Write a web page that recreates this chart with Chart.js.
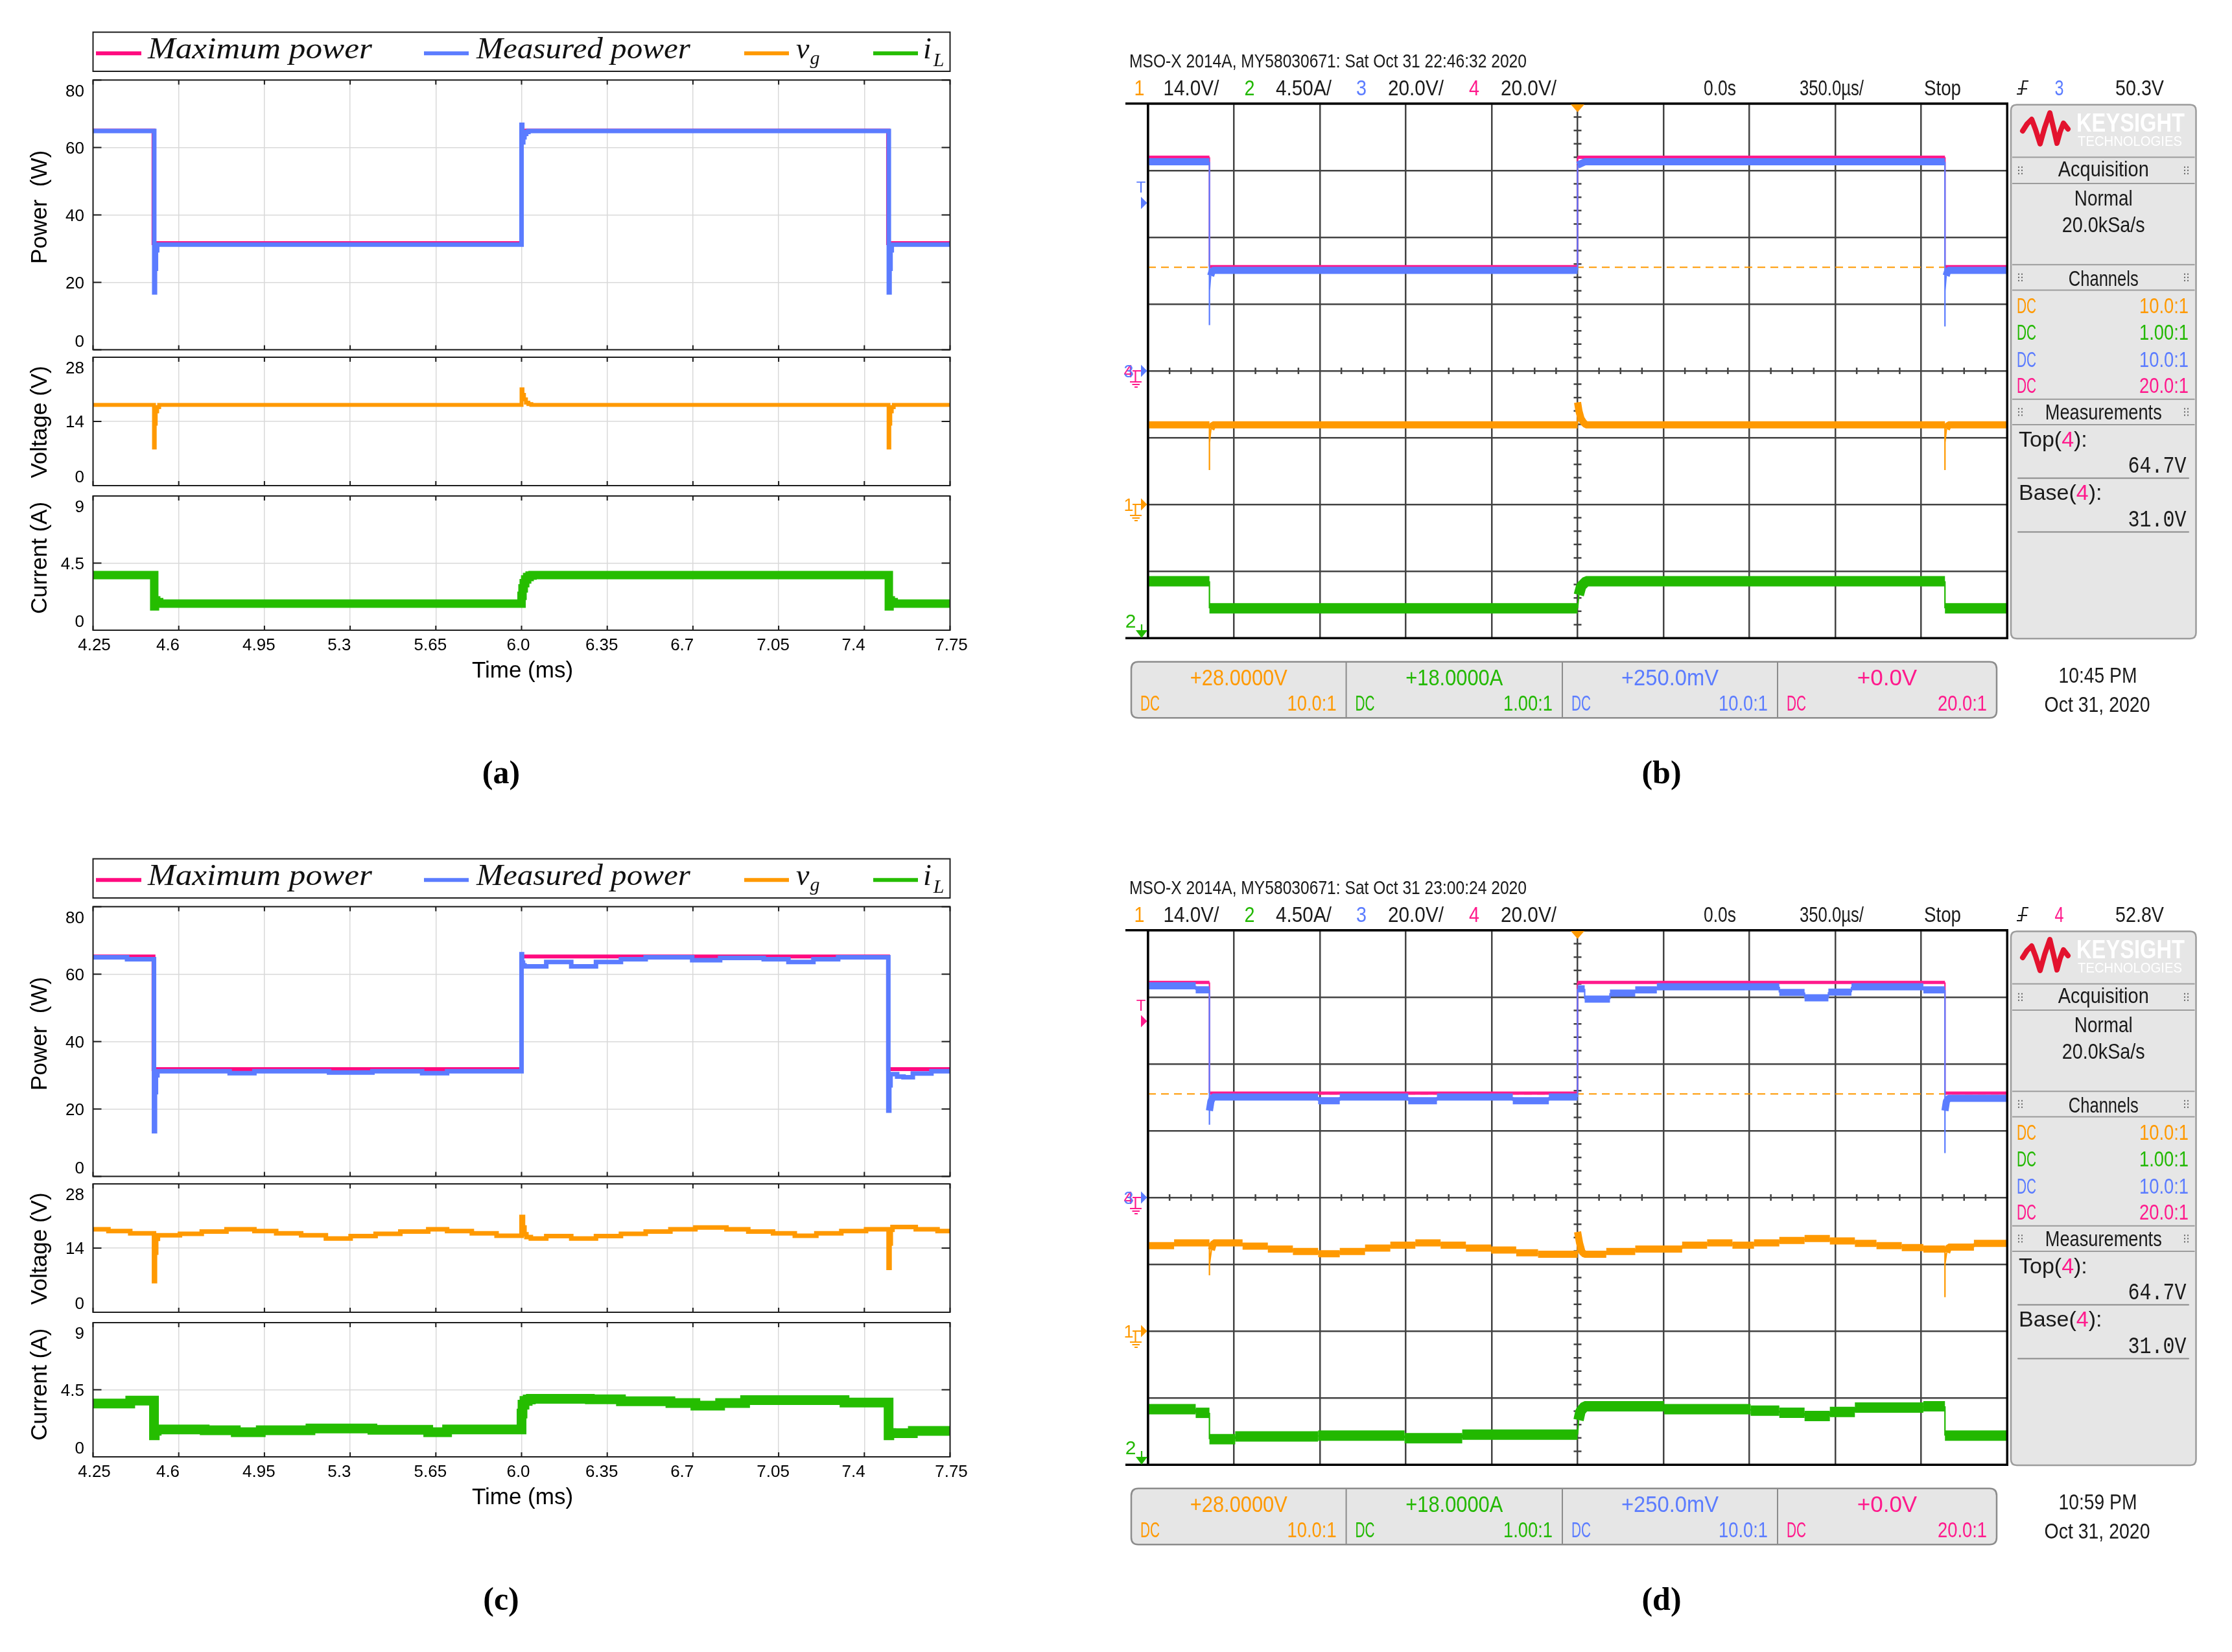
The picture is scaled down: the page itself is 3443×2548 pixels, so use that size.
<!DOCTYPE html>
<html>
<head>
<meta charset="utf-8">
<script src="https://cdn.jsdelivr.net/npm/chart.js"></script>
<style>
html,body{margin:0;padding:0;background:#fff;}
#root{position:relative;width:3443px;height:2548px;overflow:hidden;background:#fff;}
canvas{position:absolute;}
.cap{position:absolute;font:bold 50px "Liberation Serif","Times New Roman",serif;line-height:50px;color:#000;transform:translateX(-50%);white-space:nowrap;}
</style>
</head>
<body>
<div id="root">
  <div class="cap" style="left:773px;top:1166px">(a)</div>
  <div class="cap" style="left:2563px;top:1166px">(b)</div>
  <div class="cap" style="left:773px;top:2441px">(c)</div>
  <div class="cap" style="left:2563px;top:2441px">(d)</div>
</div>
<script>
// ---------------- DATA ----------------
// Simulation panels (a) and (c): time in ms
const simTickLabels = ['4.25','4.6','4.95','5.3','5.65','6.0','6.35','6.7','7.05','7.4','7.75'];
const simTickValues = simTickLabels.map(Number);
const powerTicks = [0, 20, 40, 60, 80];
const voltTicks = [0, 14, 28];
const currTicks = [0, 4.5, 9];
const legendNames = ['Maximum power', 'Measured power', 'v', 'i'];
const legendSubs = ['', '', 'g', 'L'];

// (a) level-start times and values (step signals)
const aMaxT  = [4.25, 4.497, 6.0, 7.497, 7.75];
const aMaxP  = [65.0, 31.6, 65.0, 31.6, 31.6];
const aMeasT = [4.25, 4.500, 4.503, 4.507, 4.512, 6.000, 6.003, 6.007, 6.012, 6.019, 6.028, 7.500, 7.503, 7.507, 7.512, 7.75];
const aMeasP = [64.9, 17.0, 24.0, 29.5, 31.2, 66.7, 61.5, 63.0, 64.0, 64.6, 64.9, 17.0, 24.0, 29.5, 31.2, 31.2];
const aVgT   = [4.25, 4.499, 4.502, 4.506, 4.512, 4.52, 6.0, 6.004, 6.01, 6.018, 6.028, 6.04, 7.499, 7.502, 7.506, 7.512, 7.52, 7.75];
const aVgV   = [17.6, 8.3, 13.5, 16.2, 17.1, 17.6, 21.0, 19.8, 18.8, 18.1, 17.8, 17.6, 8.3, 13.5, 16.2, 17.1, 17.6, 17.6];
const aIlT   = [4.25, 4.500, 4.503, 4.508, 4.52, 6.0, 6.004, 6.009, 6.015, 6.023, 6.033, 6.045, 7.500, 7.503, 7.508, 7.52, 7.75];
const aIlV   = [3.7, 1.6, 2.0, 1.88, 1.78, 2.3, 2.8, 3.15, 3.4, 3.57, 3.66, 3.7, 1.6, 2.0, 1.88, 1.78, 1.78];

// (c)
const cMaxT  = [4.25, 4.497, 6.0, 7.497, 7.75];
const cMaxP  = [65.2, 31.8, 65.2, 31.8, 31.8];
const cMeasT = [4.25, 4.389, 4.499, 4.503, 4.507, 4.513, 4.808, 4.909, 5.214, 5.391, 5.594, 5.696, 6.0, 6.002, 6.006, 6.012, 6.101, 6.203, 6.304, 6.406, 6.507, 6.697, 6.811, 6.989, 7.090, 7.192, 7.293, 7.498, 7.502, 7.507, 7.513, 7.534, 7.56, 7.598, 7.674, 7.75];
const cMeasP = [65.0, 64.4, 13.4, 25.0, 30.0, 31.2, 30.6, 31.2, 30.8, 31.2, 30.6, 31.2, 65.9, 63.4, 62.6, 62.3, 63.6, 62.3, 63.6, 64.4, 65.0, 64.1, 64.8, 64.4, 63.6, 64.4, 65.0, 19.5, 27.0, 30.3, 30.3, 29.6, 29.4, 30.5, 31.2, 31.2];
const cVgT   = [4.25, 4.313, 4.402, 4.499, 4.503, 4.508, 4.515, 4.605, 4.694, 4.795, 4.909, 4.998, 5.10, 5.201, 5.302, 5.404, 5.505, 5.619, 5.696, 5.797, 5.898, 6.0, 6.006, 6.012, 6.02, 6.038, 6.101, 6.203, 6.304, 6.406, 6.507, 6.608, 6.71, 6.837, 6.926, 7.027, 7.116, 7.204, 7.306, 7.407, 7.499, 7.503, 7.508, 7.515, 7.610, 7.699, 7.75];
const cVgV   = [18.1, 17.7, 17.2, 6.8, 13.0, 16.0, 16.8, 17.1, 17.6, 18.1, 17.7, 17.2, 16.8, 16.1, 16.6, 17.1, 17.6, 18.1, 17.7, 17.2, 16.7, 20.8, 18.5, 17.0, 16.4, 16.1, 16.6, 16.1, 16.6, 17.1, 17.6, 18.1, 18.5, 18.1, 17.6, 17.2, 16.7, 17.2, 17.7, 18.1, 9.7, 15.0, 18.0, 18.6, 18.1, 17.7, 17.7];
const cIlT   = [4.25, 4.402, 4.499, 4.502, 4.51, 4.52, 4.706, 4.833, 4.935, 5.138, 5.391, 5.619, 5.696, 6.0, 6.004, 6.012, 6.025, 6.038, 6.279, 6.406, 6.608, 6.710, 6.811, 6.913, 7.319, 7.499, 7.502, 7.51, 7.598, 7.75];
const cIlV   = [3.58, 3.77, 1.45, 1.75, 1.84, 1.84, 1.78, 1.65, 1.78, 1.90, 1.81, 1.65, 1.84, 2.9, 3.5, 3.75, 3.85, 3.89, 3.86, 3.73, 3.61, 3.43, 3.61, 3.80, 3.64, 1.45, 1.6, 1.59, 1.74, 1.74];

// Oscilloscope panels (b) and (d): time in ms relative to trigger
const scopeTimeTicks = [-1.75, -1.4, -1.05, -0.7, -0.35, 0, 0.35, 0.7, 1.05, 1.4, 1.75];
const scopeDivTicks = [-4, -3, -2, -1, 0, 1, 2, 3, 4];
const scopePerDiv = [14.0, 4.50, 20.0, 20.0];      // ch1..ch4 units / div
const scopeGroundDiv = [-2, -4, 0, 0];             // ground position, divisions from centre
const scopeScaleLabels = ['14.0V/', '4.50A/', '20.0V/', '20.0V/'];
const scopeOffsets = ['+28.0000V', '+18.0000A', '+250.0mV', '+0.0V'];
const scopeProbes = ['10.0:1', '1.00:1', '10.0:1', '20.0:1'];
const measNames = ['Top', 'Base'];
const measValues = ['64.7V', '31.0V'];
const baseT = [-1.75, 1.75];
const baseV = [31.0, 31.0];

const bCh4T = [-1.75, -1.500, -1.500, 0.0, 0.0, 1.497, 1.497, 1.75];
const bCh4V = [64.0, 64.0, 31.2, 31.2, 64.0, 64.0, 31.2, 31.2];
const bCh3T = [-1.75, -1.500, -1.500, -1.500, -1.495, -1.488, 0.0, 0.0, 0.03, 1.497, 1.497, 1.497, 1.502, 1.509, 1.75];
const bCh3V = [62.6, 62.6, 13.7, 24.0, 28.5, 30.1, 30.1, 61.6, 62.6, 62.6, 13.3, 24.0, 28.5, 30.1, 30.1];
const bCh1T = [-1.75, -1.500, -1.500, -1.500, -1.494, -1.486, 0.0, 0.0, 0.006, 0.014, 0.024, 0.034, 1.497, 1.497, 1.497, 1.503, 1.511, 1.75];
const bCh1V = [16.7, 16.7, 7.2, 13.0, 15.8, 16.7, 16.7, 21.4, 19.5, 18.0, 17.2, 16.7, 16.7, 7.2, 13.0, 15.8, 16.7, 16.7];
const bCh2T = [-1.75, -1.500, -1.500, 0.0, 0.005, 0.015, 0.035, 1.497, 1.497, 1.75];
const bCh2V = [3.82, 3.82, 2.0, 2.0, 2.9, 3.5, 3.82, 3.82, 2.0, 2.0];

const dCh4T = [-1.75, -1.500, -1.500, 0.0, 0.0, 1.497, 1.497, 1.75];
const dCh4V = [64.4, 64.4, 31.25, 31.25, 64.4, 64.4, 31.25, 31.25];
const dCh3T = [-1.75, -1.556, -1.556, -1.500, -1.500, -1.500, -1.494, -1.486, -1.057, -1.057, -0.969, -0.969, -0.690, -0.690, -0.573, -0.573, -0.264, -0.264, -0.117, -0.117, 0.0, 0.0, 0.029, 0.029, 0.132, 0.132, 0.235, 0.235, 0.323, 0.323, 0.822, 0.822, 0.925, 0.925, 1.022, 1.022, 1.116, 1.116, 1.409, 1.409, 1.497, 1.497, 1.497, 1.503, 1.511, 1.75];
const dCh3V = [63.4, 63.4, 62.2, 62.2, 21.8, 26.0, 28.8, 30.1, 30.1, 29.0, 29.0, 30.1, 30.1, 29.0, 29.0, 30.1, 30.1, 29.0, 29.0, 30.1, 30.1, 62.5, 62.5, 59.4, 59.4, 61.2, 61.2, 62.2, 62.2, 63.1, 63.1, 61.4, 61.4, 59.8, 59.8, 61.5, 61.5, 63.1, 63.1, 62.2, 62.2, 13.3, 26.0, 28.8, 29.7, 29.7];
const dCh1T = [-1.75, -1.644, -1.644, -1.500, -1.500, -1.500, -1.492, -1.483, -1.365, -1.365, -1.262, -1.262, -1.160, -1.160, -1.057, -1.057, -0.969, -0.969, -0.866, -0.866, -0.763, -0.763, -0.661, -0.661, -0.558, -0.558, -0.455, -0.455, -0.352, -0.352, -0.250, -0.250, -0.161, -0.161, 0.0, 0.0, 0.008, 0.018, 0.029, 0.117, 0.117, 0.235, 0.235, 0.426, 0.426, 0.528, 0.528, 0.631, 0.631, 0.719, 0.719, 0.822, 0.822, 0.925, 0.925, 1.028, 1.028, 1.130, 1.130, 1.218, 1.218, 1.321, 1.321, 1.409, 1.409, 1.497, 1.497, 1.497, 1.504, 1.512, 1.615, 1.615, 1.75];
const dCh1V = [17.9, 17.9, 18.5, 18.5, 11.7, 14.0, 17.0, 18.5, 18.5, 17.8, 17.8, 17.2, 17.2, 16.7, 16.7, 16.2, 16.2, 16.7, 16.7, 17.4, 17.4, 18.0, 18.0, 18.5, 18.5, 18.0, 18.0, 17.4, 17.4, 17.0, 17.0, 16.4, 16.4, 16.1, 16.1, 20.8, 18.5, 16.6, 16.1, 16.1, 16.7, 16.7, 17.2, 17.2, 18.0, 18.0, 18.5, 18.5, 18.0, 18.0, 18.5, 18.5, 19.0, 19.0, 19.4, 19.4, 18.9, 18.9, 18.4, 18.4, 17.9, 17.9, 17.5, 17.5, 17.2, 17.2, 7.1, 14.0, 16.5, 17.6, 17.6, 18.4, 18.4];
const dCh2T = [-1.75, -1.556, -1.556, -1.5, -1.5, -1.395, -1.395, -1.057, -1.057, -0.705, -0.705, -0.470, -0.470, 0.0, 0.004, 0.012, 0.029, 0.352, 0.352, 0.705, 0.705, 0.822, 0.822, 0.925, 0.925, 1.028, 1.028, 1.130, 1.130, 1.409, 1.409, 1.497, 1.497, 1.75];
const dCh2V = [3.73, 3.73, 3.49, 3.49, 1.72, 1.72, 1.90, 1.90, 1.96, 1.96, 1.78, 1.78, 2.02, 2.02, 3.0, 3.6, 3.93, 3.93, 3.73, 3.73, 3.64, 3.64, 3.5, 3.5, 3.28, 3.28, 3.55, 3.55, 3.85, 3.85, 3.93, 3.93, 1.96, 1.96];

// ---------------- STYLE ----------------
const SANS = '"Liberation Sans", Arial, Helvetica, sans-serif';
const NARROW = '"Liberation Sans Narrow", "Liberation Sans", Arial, sans-serif';
const SERIF = '"Liberation Serif", "Times New Roman", serif';
const MONO = '"Liberation Mono", "DejaVu Sans Mono", monospace';
const SIMC = { max: '#FF0A7F', meas: '#5B7CFF', vg: '#FF9900', il: '#25BD00' };
const SC = { c1: '#FF9900', c2: '#22B800', c3: '#5B7CFF', c4: '#FF1A8C', ink: '#1a1a1a', grid: '#434343', panel: '#E6E6E6', line: '#9c9c9c' };
const CH = [SC.c1, SC.c2, SC.c3, SC.c4];

const root = document.getElementById('root');
function mkCanvas(x, y, w, h) {
  const c = document.createElement('canvas');
  c.width = w; c.height = h;
  c.style.left = x + 'px'; c.style.top = y + 'px';
  c.style.width = w + 'px'; c.style.height = h + 'px';
  root.appendChild(c);
  return c;
}
function pts(T, V) { return T.map((t, i) => ({ x: t, y: V[i] })); }
function txt(ctx, s, x, y, size, color, align, maxW, family) {
  ctx.font = size + 'px ' + (family || NARROW);
  ctx.fillStyle = color || SC.ink;
  ctx.textAlign = align || 'left';
  ctx.textBaseline = 'alphabetic';
  if (maxW) ctx.fillText(s, x, y, maxW); else ctx.fillText(s, x, y);
}
function rrect(ctx, x, y, w, h, r) {
  ctx.beginPath();
  ctx.moveTo(x + r, y); ctx.lineTo(x + w - r, y); ctx.quadraticCurveTo(x + w, y, x + w, y + r);
  ctx.lineTo(x + w, y + h - r); ctx.quadraticCurveTo(x + w, y + h, x + w - r, y + h);
  ctx.lineTo(x + r, y + h); ctx.quadraticCurveTo(x, y + h, x, y + h - r);
  ctx.lineTo(x, y + r); ctx.quadraticCurveTo(x, y, x + r, y); ctx.closePath();
}

// ---------------- SIMULATION PANELS ----------------
function xLabelShift(i, lab) {
  if (i === 0 || i === simTickLabels.length - 1) return 2;
  if (lab === '6.0') return -5;
  return lab.length === 3 ? -16.7 : -8.5;
}
function drawSimLegend(ctx, top) {
  const L = 143.5, R = 1465.5, H = 60.4;
  ctx.strokeStyle = '#1c1c1c'; ctx.lineWidth = 2; ctx.strokeRect(L, top, R - L, H);
  const ly = top + 32.6, by = top + 40.1;
  const cols = [SIMC.max, SIMC.meas, SIMC.vg, SIMC.il];
  const lx = [[148, 218], [654, 723], [1148, 1217], [1347, 1416]];
  const tx = [228, 735, 1228, 1424];
  const tw = [346, 330, 0, 0];
  lx.forEach((p, i) => { ctx.strokeStyle = cols[i]; ctx.lineWidth = 6; ctx.beginPath(); ctx.moveTo(p[0], ly); ctx.lineTo(p[1], ly); ctx.stroke(); });
  ctx.fillStyle = '#111'; ctx.textAlign = 'left'; ctx.textBaseline = 'alphabetic';
  legendNames.forEach((name, i) => {
    ctx.font = 'italic 46px ' + SERIF;
    const w = ctx.measureText(name).width;
    ctx.save(); ctx.translate(tx[i], by);
    if (tw[i]) ctx.scale(tw[i] / w, 1);
    ctx.fillText(name, 0, 0); ctx.restore();
    if (legendSubs[i]) {
      ctx.font = 'italic 30px ' + SERIF;
      ctx.fillText(legendSubs[i], tx[i] + w + (i === 3 ? 3 : 1), by + (i === 3 ? 12 : 9));
    }
  });
}
function simAxes(cfg) {
  return {
    id: 'simAxes',
    afterDraw(chart) {
      const ctx = chart.ctx, a = chart.chartArea, xs = chart.scales.x, ys = chart.scales.y;
      ctx.save();
      ctx.strokeStyle = '#1c1c1c'; ctx.lineWidth = 2; ctx.lineCap = 'butt';
      ctx.beginPath();
      simTickValues.forEach(v => { const px = xs.getPixelForValue(v); ctx.moveTo(px, a.bottom); ctx.lineTo(px, a.bottom - 7); ctx.moveTo(px, a.top); ctx.lineTo(px, a.top + 7); });
      cfg.yTicks.forEach(v => { const py = ys.getPixelForValue(v); ctx.moveTo(a.left, py); ctx.lineTo(a.left + 13, py); ctx.moveTo(a.right, py); ctx.lineTo(a.right - 13, py); });
      ctx.stroke();
      ctx.strokeRect(a.left, a.top, a.right - a.left, a.bottom - a.top);
      ctx.fillStyle = '#000'; ctx.font = '26px ' + SANS; ctx.textAlign = 'right'; ctx.textBaseline = 'alphabetic';
      const n = cfg.yTicks.length;
      cfg.yTicks.forEach((v, i) => {
        let c = ys.getPixelForValue(v);
        if (i === n - 1) c = a.top + 16; else if (i === 0) c = a.bottom - 14;
        ctx.fillText(String(v), a.left - 13.5, c + 9.3);
      });
      ctx.save();
      ctx.translate(71.5, (a.top + a.bottom) / 2 + cfg.titleDy); ctx.rotate(-Math.PI / 2);
      ctx.font = '35px ' + SANS; ctx.textAlign = 'center'; ctx.fillText(cfg.title, 0, 0);
      ctx.restore();
      if (cfg.xLabels) {
        ctx.font = '26px ' + SANS; ctx.textAlign = 'center';
        simTickLabels.forEach((lab, i) => { ctx.fillText(lab, xs.getPixelForValue(simTickValues[i]) + xLabelShift(i, lab), a.bottom + 31); });
        ctx.font = '35px ' + SANS;
        ctx.fillText('Time (ms)', (a.left + a.right) / 2 + 1.5, a.bottom + 73);
      }
      if (cfg.legend) drawSimLegend(ctx, a.top - 73.8);
      ctx.restore();
    }
  };
}
function simChart(cfg) {
  const c = mkCanvas(cfg.x, cfg.y, cfg.w, cfg.h);
  const yT = cfg.yTicks;
  const datasets = cfg.series.map(s => ({
    label: s.label, data: pts(s.T, s.V), borderColor: s.color, backgroundColor: s.color,
    borderWidth: s.width, pointRadius: 0, stepped: 'before', fill: false, order: s.order || 1,
    borderJoinStyle: 'miter', borderCapStyle: 'butt'
  }));
  const gridOpt = { color: '#d9d9d9', lineWidth: 1.5, drawTicks: false };
  return new Chart(c, {
    type: 'line',
    data: { datasets },
    options: {
      responsive: false, animation: false, devicePixelRatio: 1, events: [],
      layout: { padding: cfg.pad, autoPadding: false },
      plugins: { legend: { display: false }, tooltip: { enabled: false } },
      scales: {
        x: { type: 'linear', min: 4.25, max: 7.75,
             afterBuildTicks: ax => { ax.ticks = simTickValues.map(v => ({ value: v })); },
             afterFit: s => { s.height = 0; }, grid: gridOpt, border: { display: false }, ticks: { display: false } },
        y: { type: 'linear', min: yT[0], max: yT[yT.length - 1],
             afterBuildTicks: ax => { ax.ticks = yT.map(v => ({ value: v })); },
             afterFit: s => { s.width = 0; }, grid: gridOpt, border: { display: false }, ticks: { display: false } }
      }
    },
    plugins: [simAxes(cfg)]
  });
}
function simPanel(dy, D) {
  simChart({ x: 0, y: 40 + dy, w: 1500, h: 506, pad: { left: 143.5, top: 83.4, right: 34.5, bottom: 6.6 },
    yTicks: powerTicks, title: 'Power  (W)', titleDy: -12, legend: true,
    series: [
      { label: 'Measured power', T: D.measT, V: D.measP, color: SIMC.meas, width: 7, order: 1 },
      { label: 'Maximum power', T: D.maxT, V: D.maxP, color: SIMC.max, width: 6, order: 2 }
    ] });
  simChart({ x: 0, y: 546 + dy, w: 1500, h: 210, pad: { left: 143.5, top: 5, right: 34.5, bottom: 7 },
    yTicks: voltTicks, title: 'Voltage (V)', titleDy: 1,
    series: [{ label: 'vg', T: D.vgT, V: D.vgV, color: SIMC.vg, width: D.vgW }] });
  simChart({ x: 0, y: 756 + dy, w: 1500, h: 304, pad: { left: 143.5, top: 9, right: 34.5, bottom: 88 },
    yTicks: currTicks, title: 'Current (A)', titleDy: -8, xLabels: true,
    series: [{ label: 'iL', T: D.ilT, V: D.ilV, color: SIMC.il, width: D.ilW }] });
}
simPanel(0, { maxT: aMaxT, maxP: aMaxP, measT: aMeasT, measP: aMeasP, vgT: aVgT, vgV: aVgV, ilT: aIlT, ilV: aIlV, vgW: 6, ilW: 13 });
simPanel(1275, { maxT: cMaxT, maxP: cMaxP, measT: cMeasT, measP: cMeasP, vgT: cVgT, vgV: cVgV, ilT: cIlT, ilV: cIlV, vgW: 7, ilW: 15 });

// ---------------- OSCILLOSCOPE PANELS ----------------
function scopeDs(T, V, color, axis, thick, order) {
  return {
    data: pts(T, V), yAxisID: axis, borderColor: color, backgroundColor: color, borderWidth: thick,
    pointRadius: 0, order, fill: false, borderJoinStyle: 'bevel', borderCapStyle: 'butt',
    segment: { borderWidth: s => (Math.abs(s.p1.y - s.p0.y) > 6 * Math.abs(s.p1.x - s.p0.x) + 1 ? 2.2 : thick) }
  };
}
function groundMarker(ctx, gy, labels, lineColor, arrowColor) {
  labels.forEach(l => txt(ctx, l[0], 21, gy + 9.5, 27, l[1], 'center'));
  ctx.strokeStyle = lineColor; ctx.lineWidth = 2.2;
  ctx.beginPath();
  ctx.moveTo(27, gy); ctx.lineTo(41, gy);
  ctx.moveTo(31.5, gy); ctx.lineTo(31.5, gy + 16);
  ctx.moveTo(23, gy + 17); ctx.lineTo(41, gy + 17);
  ctx.moveTo(26.5, gy + 21); ctx.lineTo(38, gy + 21);
  ctx.moveTo(30, gy + 25); ctx.lineTo(35, gy + 25);
  ctx.stroke();
  ctx.fillStyle = arrowColor;
  ctx.beginPath(); ctx.moveTo(40, gy - 9.5); ctx.lineTo(49.5, gy); ctx.lineTo(40, gy + 9.5); ctx.closePath(); ctx.fill();
}
function grip(ctx, x, y) {
  ctx.fillStyle = '#666';
  for (let r = -1; r <= 1; r++) { ctx.fillRect(x, y + r * 5 - 1, 2, 2); ctx.fillRect(x + 5, y + r * 5 - 1, 2, 2); }
}
function scopePlugin(S) {
  return {
    id: 'scope',
    beforeDatasetsDraw(chart) {
      const ctx = chart.ctx, a = chart.chartArea, xs = chart.scales.x, ys = chart.scales.y34;
      const cx = xs.getPixelForValue(0), cy = ys.getPixelForValue(0);
      const dw = (a.right - a.left) / (scopeTimeTicks.length - 1), dh = (a.bottom - a.top) / (scopeDivTicks.length - 1);
      ctx.save(); ctx.strokeStyle = SC.grid; ctx.lineWidth = 2.5; ctx.beginPath();
      for (let i = 1; i < 40; i++) { if (i % 4 === 0) continue; const px = a.left + i * dw / 4; ctx.moveTo(px, cy - 5); ctx.lineTo(px, cy + 5); }
      for (let i = 1; i < 40; i++) { if (i % 5 === 0) continue; const py = a.top + i * dh / 5; ctx.moveTo(cx - 6, py); ctx.lineTo(cx + 6, py); }
      ctx.stroke(); ctx.restore();
    },
    afterDraw(chart) {
      const ctx = chart.ctx, a = chart.chartArea, xs = chart.scales.x;
      const y34 = chart.scales.y34, y1 = chart.scales.y1, y2 = chart.scales.y2;
      ctx.save();
      // frame
      ctx.fillStyle = '#000';
      ctx.fillRect(16, a.top - 2, a.right - 16 + 2, 3.5);
      ctx.fillRect(16, a.bottom - 1.5, a.right - 16 + 2, 3.5);
      ctx.fillRect(a.left - 2, a.top, 3.5, a.bottom - a.top);
      ctx.fillRect(a.right - 1.5, a.top, 3.5, a.bottom - a.top);
      // trigger position marker
      const cx = xs.getPixelForValue(0);
      ctx.fillStyle = SC.c1;
      ctx.beginPath(); ctx.moveTo(cx - 10.5, a.top + 1); ctx.lineTo(cx + 10.5, a.top + 1); ctx.lineTo(cx, a.top + 13); ctx.closePath(); ctx.fill();
      // trigger level marker
      const ty = y34.getPixelForValue(S.trigLevel);
      ctx.fillStyle = S.trigColor;
      ctx.beginPath(); ctx.moveTo(40, ty - 9.5); ctx.lineTo(49.5, ty); ctx.lineTo(40, ty + 9.5); ctx.closePath(); ctx.fill();
      txt(ctx, 'T', 40, ty - 16, 24, S.trigColor, 'center');
      // ground markers
      groundMarker(ctx, y34.getPixelForValue(0), [['4', SC.c4], ['3', SC.c3]], SC.c4, SC.c3);
      groundMarker(ctx, y1.getPixelForValue(0), [['1', SC.c1]], SC.c1, SC.c1);
      const g2 = y2.getPixelForValue(0);
      txt(ctx, '2', 24, g2 - 16, 30, SC.c2, 'center');
      ctx.strokeStyle = SC.c2; ctx.lineWidth = 2.2; ctx.beginPath(); ctx.moveTo(41, g2 - 21); ctx.lineTo(41, g2 - 11); ctx.stroke();
      ctx.fillStyle = SC.c2; ctx.beginPath(); ctx.moveTo(32, g2 - 12); ctx.lineTo(50, g2 - 12); ctx.lineTo(41, g2); ctx.closePath(); ctx.fill();

      // header
      txt(ctx, S.header, 22, 44, 30, SC.ink, 'left', 613);
      const chX = [29.5, 199.6, 372, 546], lbX = [74.4, 248, 421, 595];
      for (let i = 0; i < 4; i++) {
        txt(ctx, String(i + 1), chX[i], 86.7, 33, CH[i], 'left', 16);
        txt(ctx, scopeScaleLabels[i], lbX[i], 86.7, 33, SC.ink, 'left', 86);
      }
      txt(ctx, '0.0s', 908, 86.7, 33, SC.ink, 'left', 50);
      txt(ctx, '350.0\u00B5s/', 1056, 86.7, 33, SC.ink, 'left', 99);
      txt(ctx, 'Stop', 1248, 86.7, 33, SC.ink, 'left', 57);
      ctx.strokeStyle = SC.ink; ctx.lineWidth = 2.2; ctx.beginPath();
      ctx.moveTo(1391, 85); ctx.lineTo(1398, 85); ctx.lineTo(1401, 65); ctx.lineTo(1409, 65);
      ctx.moveTo(1393, 77); ctx.lineTo(1407, 77); ctx.stroke();
      txt(ctx, S.trigSrc, 1449.5, 86.7, 33, S.trigColor, 'left', 14);
      txt(ctx, S.trigLevel.toFixed(1) + 'V', 1543, 86.7, 33, SC.ink, 'left', 75);

      // right panel
      const P = { l: 1382, r: 1667.5, t: 101.4, b: 925 };
      rrect(ctx, P.l, P.t, P.r - P.l, P.b - P.t, 9);
      ctx.fillStyle = SC.panel; ctx.fill(); ctx.strokeStyle = SC.line; ctx.lineWidth = 2.5; ctx.stroke();
      ctx.beginPath();
      [182.6, 223, 348.2, 387.4, 555.8, 595].forEach(y => { ctx.moveTo(P.l + 2, y); ctx.lineTo(P.r - 2, y); });
      ctx.lineWidth = 2; ctx.stroke();
      // logo
      ctx.strokeStyle = '#E3122E'; ctx.lineWidth = 8; ctx.lineJoin = 'round'; ctx.lineCap = 'round';
      ctx.beginPath();
      [[1400, 142], [1407, 131], [1414, 124], [1420, 140], [1427, 162], [1434, 137], [1442, 114], [1448, 139], [1453, 161], [1458, 143], [1463, 130], [1470, 139]]
        .forEach((p, i) => i ? ctx.lineTo(p[0], p[1]) : ctx.moveTo(p[0], p[1]));
      ctx.stroke();
      ctx.font = 'bold 40px ' + SANS; ctx.fillStyle = '#ffffff'; ctx.textAlign = 'left';
      ctx.fillText('KEYSIGHT', 1483, 143, 167);
      ctx.font = '22px ' + SANS; ctx.fillText('TECHNOLOGIES', 1485, 165, 161);
      const mid = (P.l + P.r) / 2;
      txt(ctx, 'Acquisition', mid, 211.6, 34, SC.ink, 'center', 140);
      txt(ctx, 'Normal', mid, 257, 34, SC.ink, 'center', 90);
      txt(ctx, '20.0kSa/s', mid, 297.5, 34, SC.ink, 'center', 128);
      txt(ctx, 'Channels', mid, 380.6, 34, SC.ink, 'center', 108);
      [202.8, 367.8, 575.4].forEach(y => { grip(ctx, 1393, y); grip(ctx, 1649, y); });
      const rowY = [422.6, 463.8, 505.7, 546.3];
      for (let i = 0; i < 4; i++) {
        txt(ctx, 'DC', 1391, rowY[i], 34, CH[i], 'left', 30);
        txt(ctx, scopeProbes[i], 1656, rowY[i], 34, CH[i], 'right', 76);
      }
      txt(ctx, 'Measurements', mid, 586.9, 34, SC.ink, 'center', 180);
      const mY = [[628.8, 669.4, 677.5], [711.3, 751.9, 760.6]];
      measNames.forEach((nm, i) => {
        ctx.font = '34px ' + NARROW;
        const w1 = ctx.measureText(nm + '(').width;
        txt(ctx, nm + '(', 1394, mY[i][0], 34, SC.ink, 'left');
        txt(ctx, '4', 1394 + w1, mY[i][0], 34, SC.c4, 'left');
        ctx.font = '34px ' + NARROW;
        const w2 = ctx.measureText('4').width;
        txt(ctx, '):', 1394 + w1 + w2, mY[i][0], 34, SC.ink, 'left');
        txt(ctx, measValues[i], 1652.6, mY[i][1], 36, SC.ink, 'right', 90, MONO);
        ctx.strokeStyle = '#8a8a8a'; ctx.lineWidth = 2; ctx.beginPath(); ctx.moveTo(1393, mY[i][2]); ctx.lineTo(1656, mY[i][2]); ctx.stroke();
      });

      // bottom channel bar
      rrect(ctx, 25, 960.7, 1335, 86.6, 11);
      ctx.fillStyle = SC.panel; ctx.fill(); ctx.strokeStyle = '#8c8c8c'; ctx.lineWidth = 2.5; ctx.stroke();
      const cellX = [25, 356.6, 690, 1022, 1360];
      ctx.beginPath(); [356.6, 690, 1022].forEach(x => { ctx.moveTo(x, 961); ctx.lineTo(x, 1047); }); ctx.lineWidth = 2; ctx.stroke();
      for (let i = 0; i < 4; i++) {
        const l = cellX[i], r = cellX[i + 1];
        txt(ctx, scopeOffsets[i], (l + r) / 2, 996.7, 35, CH[i], 'center', 150);
        txt(ctx, 'DC', l + 14, 1036, 34, CH[i], 'left', 30);
        txt(ctx, scopeProbes[i], r - 15, 1036, 34, CH[i], 'right', 76);
      }
      txt(ctx, S.clock[0], 1516, 992.7, 34, SC.ink, 'center', 121);
      txt(ctx, S.clock[1], 1515, 1038, 34, SC.ink, 'center', 163);
      ctx.restore();
    }
  };
}
function scopeAxis(perDivIdx) {
  const pd = scopePerDiv[perDivIdx], g = scopeGroundDiv[perDivIdx];
  return { min: (-4 - g) * pd, max: (4 - g) * pd };
}
function scopeChart(S) {
  const c = mkCanvas(1720, S.y, 1710, 1070);
  const r34 = scopeAxis(2), r1 = scopeAxis(0), r2 = scopeAxis(1);
  const gridOpt = { color: SC.grid, lineWidth: 2.5, drawTicks: false };
  return new Chart(c, {
    type: 'line',
    data: {
      datasets: [
        { data: pts(baseT, baseV), yAxisID: 'y34', borderColor: SC.c1, borderWidth: 2, borderDash: [12, 8], pointRadius: 0, order: 10, fill: false },
        scopeDs(S.ch2T, S.ch2V, SC.c2, 'y2', 16, 6),
        scopeDs(S.ch1T, S.ch1V, SC.c1, 'y1', 11, 5),
        scopeDs(S.ch4T, S.ch4V, SC.c4, 'y34', 5, 4),
        scopeDs(S.ch3T, S.ch3V, SC.c3, 'y34', 11, 3)
      ]
    },
    options: {
      responsive: false, animation: false, devicePixelRatio: 1, events: [],
      layout: { padding: { left: 51, top: 100, right: 334, bottom: 146 }, autoPadding: false },
      plugins: { legend: { display: false }, tooltip: { enabled: false } },
      scales: {
        x: { type: 'linear', min: scopeTimeTicks[0], max: scopeTimeTicks[scopeTimeTicks.length - 1],
             afterBuildTicks: ax => { ax.ticks = scopeTimeTicks.map(v => ({ value: v })); },
             afterFit: s => { s.height = 0; }, grid: gridOpt, border: { display: false }, ticks: { display: false } },
        y34: { type: 'linear', position: 'left', min: r34.min, max: r34.max,
             afterBuildTicks: ax => { ax.ticks = scopeDivTicks.map(d => ({ value: d * scopePerDiv[2] })); },
             afterFit: s => { s.width = 0; }, grid: gridOpt, border: { display: false }, ticks: { display: false } },
        y1: { type: 'linear', display: false, min: r1.min, max: r1.max },
        y2: { type: 'linear', display: false, min: r2.min, max: r2.max }
      }
    },
    plugins: [scopePlugin(S)]
  });
}
scopeChart({ y: 60, header: 'MSO-X 2014A, MY58030671: Sat Oct 31 22:46:32 2020', trigSrc: '3', trigColor: SC.c3, trigLevel: 50.3,
  clock: ['10:45 PM', 'Oct 31, 2020'],
  ch1T: bCh1T, ch1V: bCh1V, ch2T: bCh2T, ch2V: bCh2V, ch3T: bCh3T, ch3V: bCh3V, ch4T: bCh4T, ch4V: bCh4V });
scopeChart({ y: 1335, header: 'MSO-X 2014A, MY58030671: Sat Oct 31 23:00:24 2020', trigSrc: '4', trigColor: SC.c4, trigLevel: 52.8,
  clock: ['10:59 PM', 'Oct 31, 2020'],
  ch1T: dCh1T, ch1V: dCh1V, ch2T: dCh2T, ch2V: dCh2V, ch3T: dCh3T, ch3V: dCh3V, ch4T: dCh4T, ch4V: dCh4V });
</script>
</body>
</html>
